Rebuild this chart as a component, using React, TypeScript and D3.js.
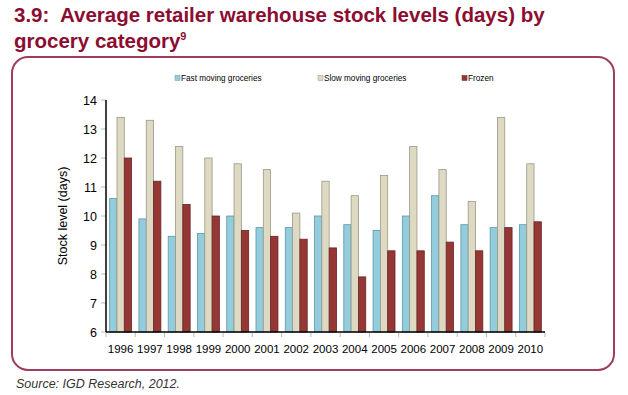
import React from "react";
import { scaleBand, scaleLinear } from "d3";

const years = ["1996", "1997", "1998", "1999", "2000", "2001", "2002", "2003", "2004", "2005", "2006", "2007", "2008", "2009", "2010"];
const fastMoving = [10.6, 9.9, 9.3, 9.4, 10.0, 9.6, 9.6, 10.0, 9.7, 9.5, 10.0, 10.7, 9.7, 9.6, 9.7];
const slowMoving = [13.4, 13.3, 12.4, 12.0, 11.8, 11.6, 10.1, 11.2, 10.7, 11.4, 12.4, 11.6, 10.5, 13.4, 11.8];
const frozen = [12.0, 11.2, 10.4, 10.0, 9.5, 9.3, 9.2, 8.9, 7.9, 8.8, 8.8, 9.1, 8.8, 9.6, 9.8];
const yTicks = [6, 7, 8, 9, 10, 11, 12, 13, 14];

const series = [
  { name: "Fast moving groceries", values: fastMoving, fill: "#93cddd", stroke: "#5e97a6", lx: 175 },
  { name: "Slow moving groceries", values: slowMoving, fill: "#ddd9c3", stroke: "#9b9883", lx: 318 },
  { name: "Frozen", values: frozen, fill: "#953735", stroke: "#6a2523", lx: 462 },
];

const W = 628;
const H = 395;
const margin = { left: 106, right: 83, top: 100, bottom: 63 };

export default function App() {
  const x = scaleBand().domain(years).range([margin.left, W - margin.right]).paddingInner(0.25).paddingOuter(0.125);
  const step = x.step();
  const inner = scaleBand<number>().domain([0, 1, 2]).range([0, x.bandwidth()]);
  const y = scaleLinear().domain([6, 14]).range([H - margin.bottom, margin.top]);
  const font = "Arial, 'Liberation Sans', sans-serif";

  return (
    <svg width={W} height={H} style={{ position: "absolute", left: 0, top: 0 }} fontFamily={font}>
      <rect width={W} height={H} fill="#fff" />
      <text x={14} y={22} fontSize={20.5} fontWeight="bold" fill="#8c0d30" style={{ whiteSpace: "pre" }}>
        {"3.9:  Average retailer warehouse stock levels (days) by"}
      </text>
      <text x={14} y={48} fontSize={20.5} fontWeight="bold" fill="#8c0d30">
        grocery category<tspan fontSize={11} dy={-8}>9</tspan>
      </text>
      <rect x={12} y={57} width={602} height={313} rx={16} fill="none" stroke="#a13d5c" strokeWidth={2} />

      {series.map((s) => (
        <g key={s.name}>
          <rect x={s.lx} y={75.5} width={5} height={5} fill={s.fill} stroke={s.stroke} strokeWidth={0.5} />
          <text x={s.lx + 6} y={80.5} fontSize={8.2} fill="#000">{s.name}</text>
        </g>
      ))}

      {yTicks.map((t) => (
        <g key={t}>
          <line x1={margin.left - 5} x2={margin.left} y1={y(t)} y2={y(t)} stroke="#bbb" />
          <text x={margin.left - 9} y={y(t) + 4.5} fontSize={12.5} textAnchor="end" fill="#000">{t}</text>
        </g>
      ))}

      {years.map((yr, i) => (
        <g key={yr}>
          {series.map((s, j) => (
            <rect
              key={s.name}
              x={(x(yr) as number) + (inner(j) as number)}
              y={y(s.values[i])}
              width={inner.bandwidth()}
              height={y(6) - y(s.values[i])}
              fill={s.fill}
              stroke={s.stroke}
              strokeWidth={0.8}
            />
          ))}
          <line
            x1={(x(yr) as number) - step * 0.125}
            x2={(x(yr) as number) - step * 0.125}
            y1={y(6)}
            y2={y(6) + 5}
            stroke="#bbb"
          />
          <text x={(x(yr) as number) + x.bandwidth() / 2} y={y(6) + 21} fontSize={11.5} textAnchor="middle" fill="#000">
            {yr}
          </text>
        </g>
      ))}
      <line x1={W - margin.right} x2={W - margin.right} y1={y(6)} y2={y(6) + 5} stroke="#bbb" />

      <line x1={margin.left} x2={margin.left} y1={margin.top} y2={y(6)} stroke="#000" strokeWidth={1.5} />
      <line x1={margin.left} x2={W - margin.right} y1={y(6)} y2={y(6)} stroke="#000" strokeWidth={1.5} />

      <text transform={`translate(67,${(margin.top + y(6)) / 2}) rotate(-90)`} fontSize={12.5} textAnchor="middle" fill="#000">
        Stock level (days)
      </text>

      <text x={16} y={388} fontSize={12.5} fontStyle="italic" fill="#333">Source: IGD Research, 2012.</text>
    </svg>
  );
}
